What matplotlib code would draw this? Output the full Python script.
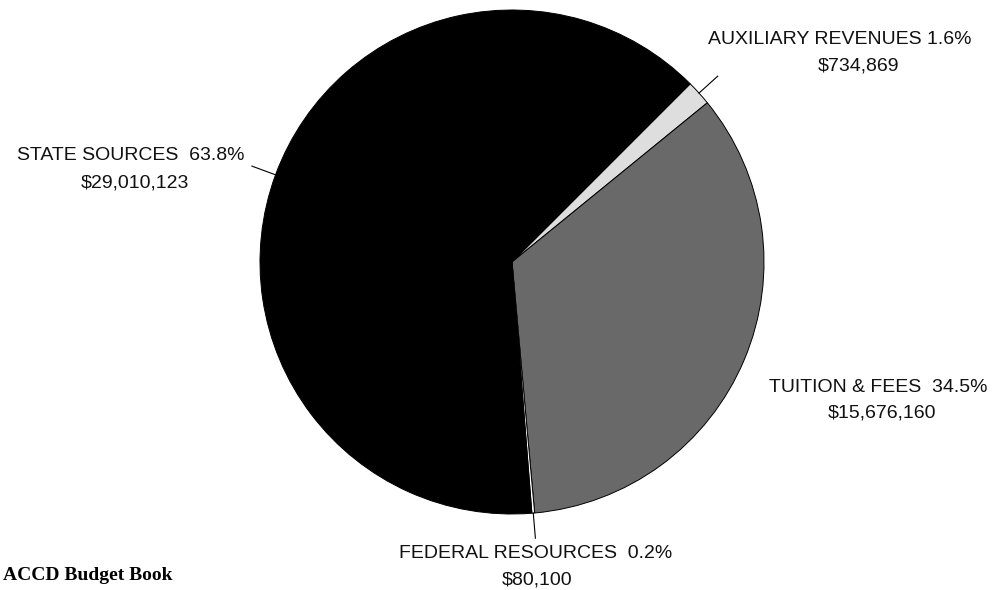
"""Revenue sources pie chart (ACCD budget book style)."""

import numpy as np
import matplotlib
matplotlib.use("Agg")
import matplotlib.pyplot as plt

# slices in clockwise order starting at the upper right
CATEGORIES = ["AUXILIARY REVENUES", "TUITION & FEES", "FEDERAL RESOURCES", "STATE SOURCES"]
AMOUNTS = [734869, 15676160, 80100, 29010123]
PERCENTS = ["1.6%", "34.5%", "0.2%", "63.8%"]
COLORS = ["#dedede", "#696969", "#ffffff", "#000000"]

W, H = 997, 590
CENTER = (512, H - 262)
RADIUS = 252
START_ANGLE = 45

# label anchors in pixels from top-left: (name line x, y, amount line x, y)
LABEL_POS = {
    "AUXILIARY REVENUES": (840, 39, 858, 66),
    "TUITION & FEES": (878, 387, 882, 413),
    "FEDERAL RESOURCES": (536, 553, 537, 580),
    "STATE SOURCES": (131, 155, 135, 183),
}
GAP = {"AUXILIARY REVENUES": " ", "TUITION & FEES": "  ",
       "FEDERAL RESOURCES": "  ", "STATE SOURCES": "  "}
LEADER = {"AUXILIARY REVENUES": True, "TUITION & FEES": False,
          "FEDERAL RESOURCES": True, "STATE SOURCES": True}


def main() -> None:
    fig = plt.figure(figsize=(W / 100, H / 100), dpi=100)
    ax = fig.add_axes([0, 0, 1, 1])

    wedges, _ = ax.pie(
        AMOUNTS,
        colors=COLORS,
        startangle=START_ANGLE,
        counterclock=False,
        center=CENTER,
        radius=RADIUS,
        wedgeprops=dict(edgecolor="black", linewidth=0.7),
        frame=True,
    )
    ax.set_xlim(0, W)
    ax.set_ylim(0, H)
    ax.set_aspect("equal")
    ax.axis("off")

    text_kw = dict(ha="center", va="center", fontsize=14,
                   family="Liberation Sans", color="#111111")
    for wedge, name, amount, pct in zip(wedges, CATEGORIES, AMOUNTS, PERCENTS):
        mid = np.deg2rad((wedge.theta1 + wedge.theta2) / 2)
        if LEADER[name]:
            r0, r1 = RADIUS * 1.0, RADIUS * 1.1
            ax.plot(
                [CENTER[0] + r0 * np.cos(mid), CENTER[0] + r1 * np.cos(mid)],
                [CENTER[1] + r0 * np.sin(mid), CENTER[1] + r1 * np.sin(mid)],
                color="black", linewidth=0.8,
            )
        x1, y1, x2, y2 = LABEL_POS[name]
        ax.text(x1, H - y1, f"{name}{GAP[name]}{pct}", **text_kw)
        ax.text(x2, H - y2, f"${amount:,}", **text_kw)

    fig.text(3 / W, 1 - 576 / H, "ACCD Budget Book", ha="left", va="center",
             fontsize=14, family="Liberation Serif", fontweight="bold")

    fig.savefig("out.png", dpi=100)
    plt.close(fig)


if __name__ == "__main__":
    main()
